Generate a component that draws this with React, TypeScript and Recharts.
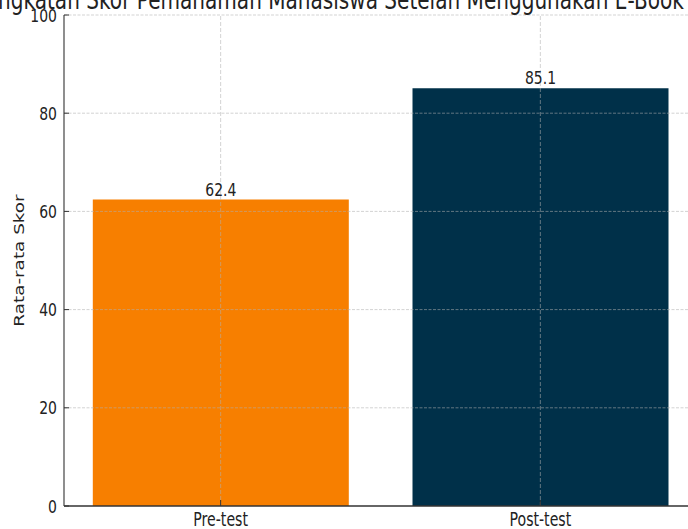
import { BarChart, Bar, XAxis, YAxis, Cell, LabelList, ReferenceLine } from "recharts";

// nilai rata-rata skor
const kategori = ["Pre-test", "Post-test"];
const skor = [62.4, 85.1];
const warna = ["#F77F00", "#003049"];
const yTicks = [0, 20, 40, 60, 80, 100];
const xTicks = [0, 1];

const judul = "Peningkatan Skor Pemahaman Mahasiswa Setelah Menggunakan E-Book Interaktif";
const labelY = "Rata-rata Skor";

const data = kategori.map((nama, i) => ({ idx: i, nama, skor: skor[i] }));

const FONT = "DejaVu Sans";
const SX = 0.76; // gambar asli dipadatkan horizontal
const TXT = "#222";

function YTick(props: any) {
  const { x, y, payload } = props;
  return (
    <g>
      <line x1={x} x2={x + 5} y1={y} y2={y} stroke="#333" strokeWidth={1} />
      <text
        transform={`translate(${x - 7},${y}) scale(${SX},1)`}
        textAnchor="end"
        dy="0.36em"
        fontFamily={FONT}
        fontSize={18.4}
        fill={TXT}
      >
        {payload.value}
      </text>
    </g>
  );
}

function XTick(props: any) {
  const { x, y, payload } = props;
  return (
    <g>
      <line x1={x} x2={x} y1={y} y2={y - 6} stroke="#333" strokeWidth={1} />
      <text
        transform={`translate(${x},${y + 20}) scale(${SX},1)`}
        textAnchor="middle"
        fontFamily={FONT}
        fontSize={18.6}
        fill={TXT}
      >
        {kategori[payload.value]}
      </text>
    </g>
  );
}

function NilaiLabel(props: any) {
  const { x, y, width, value } = props;
  return (
    <text
      transform={`translate(${x + width / 2},${y - 4}) scale(${SX},1)`}
      textAnchor="middle"
      fontFamily={FONT}
      fontSize={18.4}
      fill={TXT}
    >
      {value}
    </text>
  );
}

export default function App() {
  return (
    <div
      style={{
        position: "fixed",
        left: 0,
        top: 0,
        width: 688,
        height: 529,
        overflow: "hidden",
        background: "#fff",
      }}
    >
      <BarChart
        width={720}
        height={529}
        data={data}
        margin={{ top: 15, right: 23, left: 0, bottom: 0 }}
      >
        <XAxis
          dataKey="idx"
          type="number"
          domain={[-0.49, 1.49]}
          ticks={xTicks}
          allowDataOverflow
          height={23}
          tickSize={0}
          tickMargin={0}
          tickLine={false}
          axisLine={{ stroke: "#333", strokeWidth: 1.5 }}
          tick={<XTick />}
          interval={0}
        />
        <YAxis
          domain={[0, 100]}
          ticks={yTicks}
          width={64}
          tickSize={0}
          tickMargin={0}
          tickLine={false}
          axisLine={{ stroke: "#444", strokeWidth: 1.2 }}
          tick={<YTick />}
          interval={0}
        />
        <Bar dataKey="skor" barSize={256} isAnimationActive={false}>
          {data.map((d, i) => (
            <Cell key={d.nama} fill={warna[i]} />
          ))}
          <LabelList dataKey="skor" content={<NilaiLabel />} />
        </Bar>
        {yTicks.slice(1).map((t) => (
          <ReferenceLine
            key={"h" + t}
            y={t}
            stroke="#b0b0b0"
            strokeOpacity={0.7}
            strokeWidth={0.8}
            strokeDasharray="3 1.5"
          />
        ))}
        {xTicks.map((t) => (
          <ReferenceLine
            key={"v" + t}
            x={t}
            stroke="#b0b0b0"
            strokeOpacity={0.7}
            strokeWidth={0.8}
            strokeDasharray="4 2"
          />
        ))}
      </BarChart>
      <svg
        width={688}
        height={529}
        style={{ position: "absolute", left: 0, top: 0, pointerEvents: "none" }}
      >
        <text
          transform={`translate(-44,8.5) scale(${SX},1)`}
          textAnchor="start"
          fontFamily={FONT}
          fontSize={26.4}
          fill={TXT}
        >
          {judul}
        </text>
        <text
          transform={`translate(24,260.5) scale(${SX},1) rotate(-90)`}
          textAnchor="middle"
          fontFamily={FONT}
          fontSize={18.4}
          fill={TXT}
        >
          {labelY}
        </text>
      </svg>
    </div>
  );
}
